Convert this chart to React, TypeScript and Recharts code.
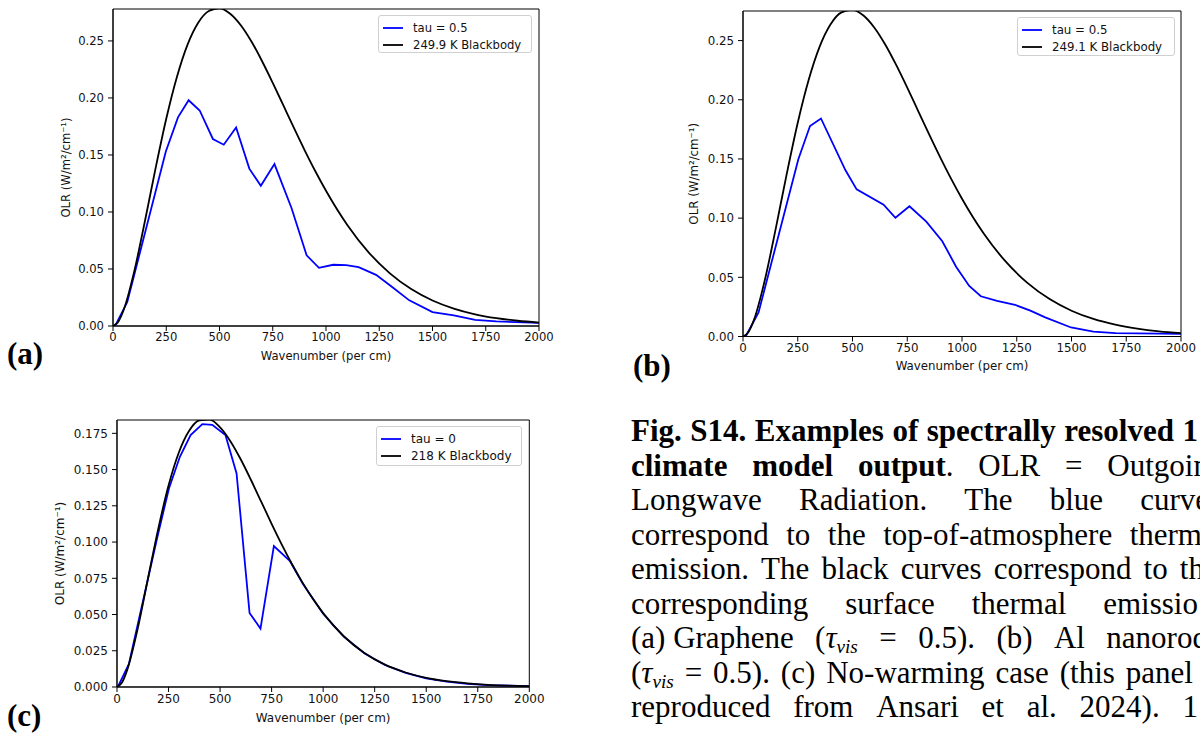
import React from 'react';
import { LineChart, Line, XAxis, YAxis, ReferenceArea } from 'recharts';

// shared wavenumber grid for the blackbody curves (per cm)
const bbWavenumbers = [0, 25, 50, 100, 150, 200, 250, 300, 350, 400, 450, 500, 550, 600, 650, 700, 750, 800, 850, 900, 950, 1000, 1100, 1200, 1300, 1400, 1500, 1600, 1700, 1800, 1900, 2000];

// (a) graphene, 249.9 K blackbody
const bbA = [0, 0.0038, 0.014, 0.0481, 0.0921, 0.1384, 0.1817, 0.2184, 0.2468, 0.266, 0.2763, 0.2786, 0.2739, 0.2638, 0.2495, 0.2322, 0.2132, 0.1934, 0.1735, 0.1541, 0.1357, 0.1186, 0.0886, 0.0646, 0.0462, 0.0324, 0.0224, 0.0153, 0.0103, 0.0069, 0.0046, 0.003];
const blueAx = [10, 67, 248, 305, 355, 407, 469, 520, 578, 640, 694, 758, 838, 909, 967, 1034, 1095, 1153, 1235, 1309, 1391, 1500, 1600, 1700, 1800, 2000];
const blueAy = [0, 0.021, 0.153, 0.183, 0.198, 0.189, 0.164, 0.159, 0.174, 0.138, 0.123, 0.142, 0.1035, 0.062, 0.051, 0.0537, 0.0534, 0.0516, 0.0449, 0.0344, 0.0225, 0.0122, 0.0093, 0.0053, 0.004, 0.0027];

// (b) Al nanorod, 249.1 K blackbody
const bbB = [0, 0.0038, 0.014, 0.0479, 0.0916, 0.1376, 0.1806, 0.2169, 0.2449, 0.2638, 0.2738, 0.2759, 0.2712, 0.2609, 0.2465, 0.2292, 0.2102, 0.1905, 0.1708, 0.1516, 0.1334, 0.1164, 0.0868, 0.0632, 0.0451, 0.0316, 0.0218, 0.0148, 0.01, 0.0067, 0.0044, 0.0029];
const blueBx = [12, 71, 253, 306, 356, 468, 519, 642, 696, 760, 837, 910, 973, 1033, 1086, 1160, 1242, 1312, 1380, 1498, 1600, 1701, 2000];
const blueBy = [0, 0.0203, 0.15, 0.1778, 0.1842, 0.1404, 0.1243, 0.1114, 0.1003, 0.11, 0.097, 0.0805, 0.059, 0.0427, 0.034, 0.0302, 0.0268, 0.0218, 0.0161, 0.0076, 0.0042, 0.0028, 0.0023];

// (c) no-warming case, 218 K blackbody
const bbC = [0, 0.0033, 0.012, 0.04, 0.0747, 0.1091, 0.139, 0.1618, 0.1768, 0.184, 0.1844, 0.1791, 0.1696, 0.1571, 0.1428, 0.1277, 0.1126, 0.0981, 0.0845, 0.072, 0.0608, 0.051, 0.035, 0.0235, 0.0154, 0.01, 0.0063, 0.004, 0.0025, 0.0015, 0.0009, 0.0006];
const blueCx = [4, 58, 195, 252, 305, 357, 414, 462, 526, 580, 643, 696, 761, 838, 900, 1000, 1100, 1200, 1300, 1400, 1500, 1600, 1700, 1800, 2000];
const blueCy = [0, 0.016, 0.103, 0.137, 0.1588, 0.1738, 0.1814, 0.1809, 0.1738, 0.1473, 0.0511, 0.0403, 0.0972, 0.087, 0.0715, 0.0505, 0.0347, 0.0233, 0.0152, 0.0097, 0.006, 0.0037, 0.0022, 0.0013, 0.0005];

const xTicks = [0, 250, 500, 750, 1000, 1250, 1500, 1750, 2000];
const yTicksAB = [0, 0.05, 0.1, 0.15, 0.2, 0.25];
const yTicksC = [0, 0.025, 0.05, 0.075, 0.1, 0.125, 0.15, 0.175];

const sans = '"DejaVu Sans", sans-serif';
const serif = '"Liberation Serif", "Times New Roman", serif';

const toPoints = (xs: number[], ys: number[]) => xs.map((x, i) => ({ x, y: ys[i] }));

type PanelProps = {
  plot: { x: number; y: number; w: number; h: number };
  yMax: number;
  yTicks: number[];
  digits: number;
  blue: { x: number; y: number }[];
  black: { x: number; y: number }[];
  blueLabel: string;
  blackLabel: string;
  legend: { x: number; y: number; w: number; h: number };
  yLabelX: number;
  xLabelY: number;
  fs: number;
};

function Panel(p: PanelProps) {
  const padL = 90;
  const padT = 12;
  const padR = 20;
  const padB = 56;
  const W = p.plot.w + padL + padR;
  const H = p.plot.h + padT + padB;
  const ox = p.plot.x - padL;
  const oy = p.plot.y - padT;
  const tick = { fontSize: p.fs, fill: '#111', fontFamily: sans };

  return (
    <div style={{ position: 'absolute', left: ox, top: oy, width: W, height: H }}>
      <LineChart width={W} height={H} margin={{ top: padT, right: padR, left: 0, bottom: 0 }}>
        <XAxis
          type="number"
          dataKey="x"
          domain={[0, 2000]}
          ticks={xTicks}
          allowDataOverflow
          height={padB}
          tickSize={5}
          tickMargin={2}
          tick={tick}
          stroke="#000"
          label={{
            content: () => (
              <text x={padL + p.plot.w / 2} y={p.xLabelY - oy} textAnchor="middle" dominantBaseline="central" fontSize={p.fs} fontFamily={sans} fill="#111">
                Wavenumber (per cm)
              </text>
            ),
          }}
        />
        <YAxis
          type="number"
          dataKey="y"
          domain={[0, p.yMax]}
          ticks={p.yTicks}
          allowDataOverflow
          width={padL}
          tickSize={5}
          tickMargin={4}
          tick={tick}
          stroke="#000"
          tickFormatter={(v: number) => v.toFixed(p.digits)}
          label={{
            content: () => {
              const cx = p.yLabelX - ox;
              const cy = padT + p.plot.h / 2;
              return (
                <text x={cx} y={cy} transform={`rotate(-90 ${cx} ${cy})`} textAnchor="middle" dominantBaseline="central" fontSize={p.fs} fontFamily={sans} fill="#111">
                  OLR (W/m²/cm⁻¹)
                </text>
              );
            },
          }}
        />
        <Line data={p.blue} dataKey="y" type="linear" stroke="#0000ff" strokeWidth={1.8} dot={false} isAnimationActive={false} />
        <Line data={p.black} dataKey="y" type="monotone" stroke="#000" strokeWidth={1.8} dot={false} isAnimationActive={false} />
        <ReferenceArea x1={0} x2={2000} y1={0} y2={p.yMax} fill="none" stroke="#000" strokeWidth={1} ifOverflow="visible" />
      </LineChart>
      <div
        style={{
          position: 'absolute',
          left: p.legend.x - ox,
          top: p.legend.y - oy,
          width: p.legend.w,
          height: p.legend.h,
          boxSizing: 'border-box',
          border: '1px solid #d0d0d0',
          borderRadius: 3,
          background: 'rgba(255,255,255,0.85)',
          fontFamily: sans,
          fontSize: p.fs,
          color: '#111',
        }}
      >
        {[
          { c: '#0000ff', t: p.blueLabel },
          { c: '#000', t: p.blackLabel },
        ].map((e, i) => (
          <div key={i} style={{ position: 'absolute', left: 3, top: 3 + i * 17, height: 17, display: 'flex', alignItems: 'center', whiteSpace: 'nowrap' }}>
            <svg width={22} height={4} style={{ marginRight: 9 }}>
              <line x1={1} y1={2} x2={21} y2={2} stroke={e.c} strokeWidth={1.8} />
            </svg>
            <span>{e.t}</span>
          </div>
        ))}
      </div>
    </div>
  );
}

const Tau = () => (
  <i>
    τ<sub style={{ fontSize: '0.62em', verticalAlign: '-0.25em' }}>vis</sub>
  </i>
);

type Word = React.ReactNode;

// each caption line: words spread across the column, clipped at the page edge
const captionLines: { words: Word[]; width: number }[] = [
  { words: [<b>Fig.</b>, <b>S14.</b>, <b>Examples</b>, <b>of</b>, <b>spectrally</b>, <b>resolved</b>, <b>1</b>], width: 567 },
  { words: [<b>climate</b>, <b>model</b>, <><b>output</b>.</>, 'OLR', '=', 'Outgoin'], width: 578 },
  { words: ['Longwave', 'Radiation.', 'The', 'blue', 'curve'], width: 578 },
  { words: ['correspond', 'to', 'the', 'top-of-atmosphere', 'therm'], width: 571 },
  { words: ['emission.', 'The', 'black', 'curves', 'correspond', 'to', 'th'], width: 573 },
  { words: ['corresponding', 'surface', 'thermal', 'emissio'], width: 567 },
  { words: ['(a)\u00a0Graphene', <>(<Tau /></>, '=', '0.5).', '(b)', 'Al', 'nanorod'], width: 577 },
  { words: [<>(<Tau /></>, '=', '0.5).', '(c)', 'No-warming', 'case', '(this', 'panel'], width: 562 },
  { words: ['reproduced', 'from', 'Ansari', 'et', 'al.', '2024).', '1'], width: 567 },
];

export default function App() {
  return (
    <div style={{ position: 'fixed', left: 0, top: 0, width: 1200, height: 737, overflow: 'hidden', background: '#fff' }}>
      <Panel
        plot={{ x: 113, y: 9, w: 426, h: 317 }}
        yMax={0.278}
        yTicks={yTicksAB}
        digits={2}
        blue={toPoints(blueAx, blueAy)}
        black={toPoints(bbWavenumbers, bbA)}
        blueLabel="tau = 0.5"
        blackLabel="249.9 K Blackbody"
        legend={{ x: 378, y: 15, w: 154, h: 38 }}
        yLabelX={66}
        xLabelY={356}
        fs={11.6}
      />
      <Panel
        plot={{ x: 743, y: 11, w: 438, h: 325.5 }}
        yMax={0.275}
        yTicks={yTicksAB}
        digits={2}
        blue={toPoints(blueBx, blueBy)}
        black={toPoints(bbWavenumbers, bbB)}
        blueLabel="tau = 0.5"
        blackLabel="249.1 K Blackbody"
        legend={{ x: 1017, y: 17, w: 158, h: 39 }}
        yLabelX={694}
        xLabelY={366}
        fs={11.8}
      />
      <Panel
        plot={{ x: 116.7, y: 420, w: 412.3, h: 267 }}
        yMax={0.1842}
        yTicks={yTicksC}
        digits={3}
        blue={toPoints(blueCx, blueCy)}
        black={toPoints(bbWavenumbers, bbC)}
        blueLabel="tau = 0"
        blackLabel="218 K Blackbody"
        legend={{ x: 376, y: 426, w: 146, h: 40 }}
        yLabelX={60}
        xLabelY={718}
        fs={12}
      />

      {[
        { t: '(a)', x: 7, y: 338 },
        { t: '(b)', x: 633, y: 350 },
        { t: '(c)', x: 7, y: 700 },
      ].map((l) => (
        <div key={l.t} style={{ position: 'absolute', left: l.x, top: l.y, fontFamily: serif, fontWeight: 'bold', fontSize: 31, lineHeight: '31px' }}>
          {l.t}
        </div>
      ))}

      <div style={{ position: 'absolute', left: 631, top: 414, fontFamily: serif, fontSize: 31, lineHeight: '34.5px', color: '#000' }}>
        {captionLines.map((line, i) => (
          <div key={i} style={{ display: 'flex', justifyContent: 'space-between', width: line.width, whiteSpace: 'pre', height: 34.5 }}>
            {line.words.map((w, j) => (
              <span key={j}>{w}</span>
            ))}
          </div>
        ))}
      </div>
    </div>
  );
}
